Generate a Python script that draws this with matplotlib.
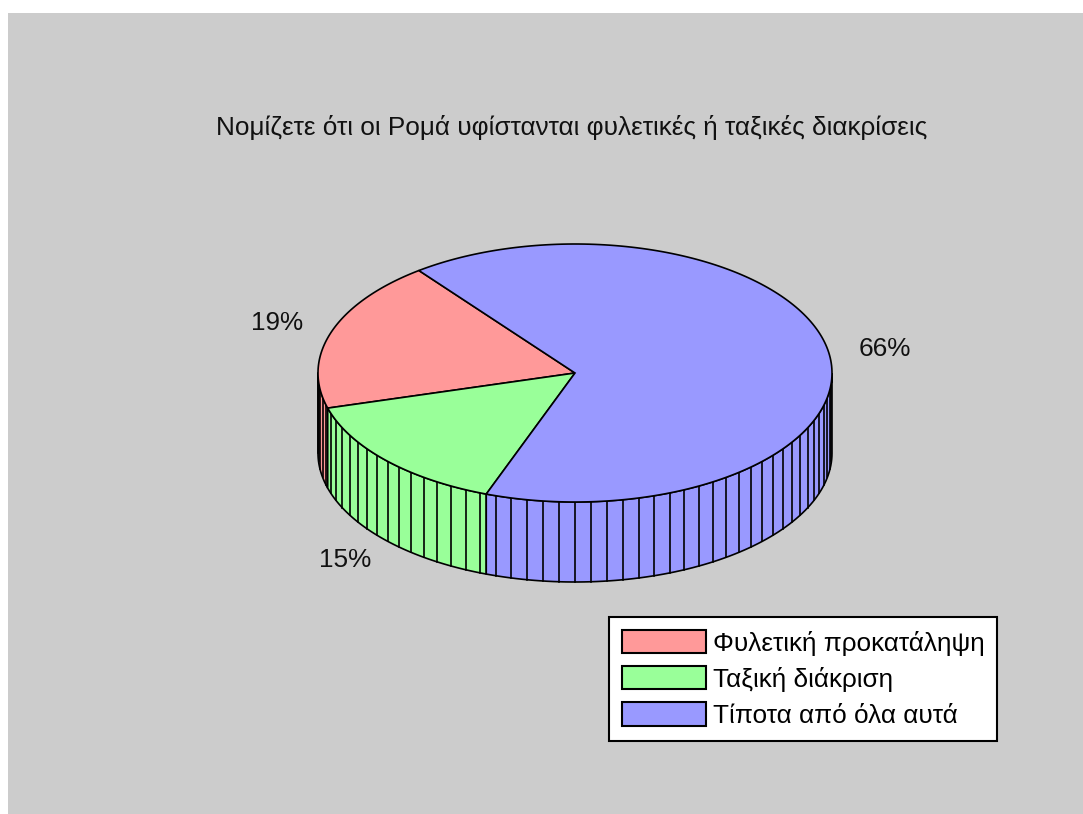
import numpy as np
import matplotlib.pyplot as plt
from matplotlib.patches import Polygon, Rectangle, Patch

labels = ["Φυλετική προκατάληψη", "Ταξική διάκριση", "Τίποτα από όλα αυτά"]
values = [19, 15, 66]
colors = ["#FF9999", "#99FF99", "#9999FF"]
title = "Νομίζετε ότι οι Ρομά υφίστανται φυλετικές ή ταξικές διακρίσεις"

plt.rcParams["font.family"] = ["Liberation Sans", "DejaVu Sans"]

W, H = 1083, 814
fig = plt.figure(figsize=(W / 100, H / 100), dpi=100)
fig.patch.set_facecolor("white")
fig.patches.append(Rectangle((8 / W, 0), 1, 1 - 13 / H, transform=fig.transFigure,
                             facecolor="#CCCCCC", edgecolor="none", zorder=-10))

ax = fig.add_axes([0, 0, 1, 1])
ax.set_xlim(0, W)
ax.set_ylim(H, 0)
ax.axis("off")

# pie geometry (pixels)
cx, cy = 575, 373
rx, ry = 257, 129
depth = 80
start = 127.4
step = 3.6
fs = 18.8


def pt(a, r=1.0, dz=0.0):
    t = np.radians(a)
    return cx + rx * r * np.cos(t), cy - ry * r * np.sin(t) + dz


fracs = np.array(values) / sum(values)
bounds = start + np.concatenate([[0], np.cumsum(fracs) * 360])

# side walls (front half only)
for i in range(len(values)):
    a0, a1 = bounds[i], bounds[i + 1]
    for k in range(-1, 2):
        lo = max(a0, 180 + 360 * k)
        hi = min(a1, 360 + 360 * k)
        if hi <= lo:
            continue
        aa = np.linspace(lo, hi, 80)
        top = [pt(a) for a in aa]
        bot = [pt(a, dz=depth) for a in aa[::-1]]
        ax.add_patch(Polygon(top + bot, closed=True, facecolor=colors[i],
                             edgecolor="black", lw=1.2, zorder=1))
        a = np.ceil(lo / step) * step
        while a < hi:
            x0, y0 = pt(a)
            ax.plot([x0, x0], [y0, y0 + depth], color="black", lw=1.2, zorder=2)
            a += step

# top wedges
for i in range(len(values)):
    aa = np.linspace(bounds[i], bounds[i + 1], 200)
    poly = [(cx, cy)] + [pt(a) for a in aa]
    ax.add_patch(Polygon(poly, closed=True, facecolor=colors[i],
                         edgecolor="black", lw=1.2, zorder=3))

# percentage labels
for i in range(len(values)):
    mid = (bounds[i] + bounds[i + 1]) / 2
    dz = depth if np.sin(np.radians(mid)) < 0 else 0
    x, y = pt(mid, r=1.22, dz=dz)
    ax.text(x, y, f"{values[i]}%", ha="center", va="center", fontsize=fs,
            color="#111111")

ax.text(572, 127, title, ha="center", va="center", fontsize=fs, color="#111111")

handles = [Patch(facecolor=c, edgecolor="black", lw=1.5) for c in colors]
leg = ax.legend(handles, labels, loc="upper left", bbox_to_anchor=(609, 617),
                bbox_transform=ax.transData, fontsize=fs, frameon=True,
                fancybox=False, framealpha=1, edgecolor="black",
                handlelength=3.2, handleheight=1.0, handletextpad=0.27,
                labelspacing=0.4, borderpad=0.5, borderaxespad=0)
leg.get_frame().set_linewidth(1.5)

fig.savefig("out.png", dpi=100)
